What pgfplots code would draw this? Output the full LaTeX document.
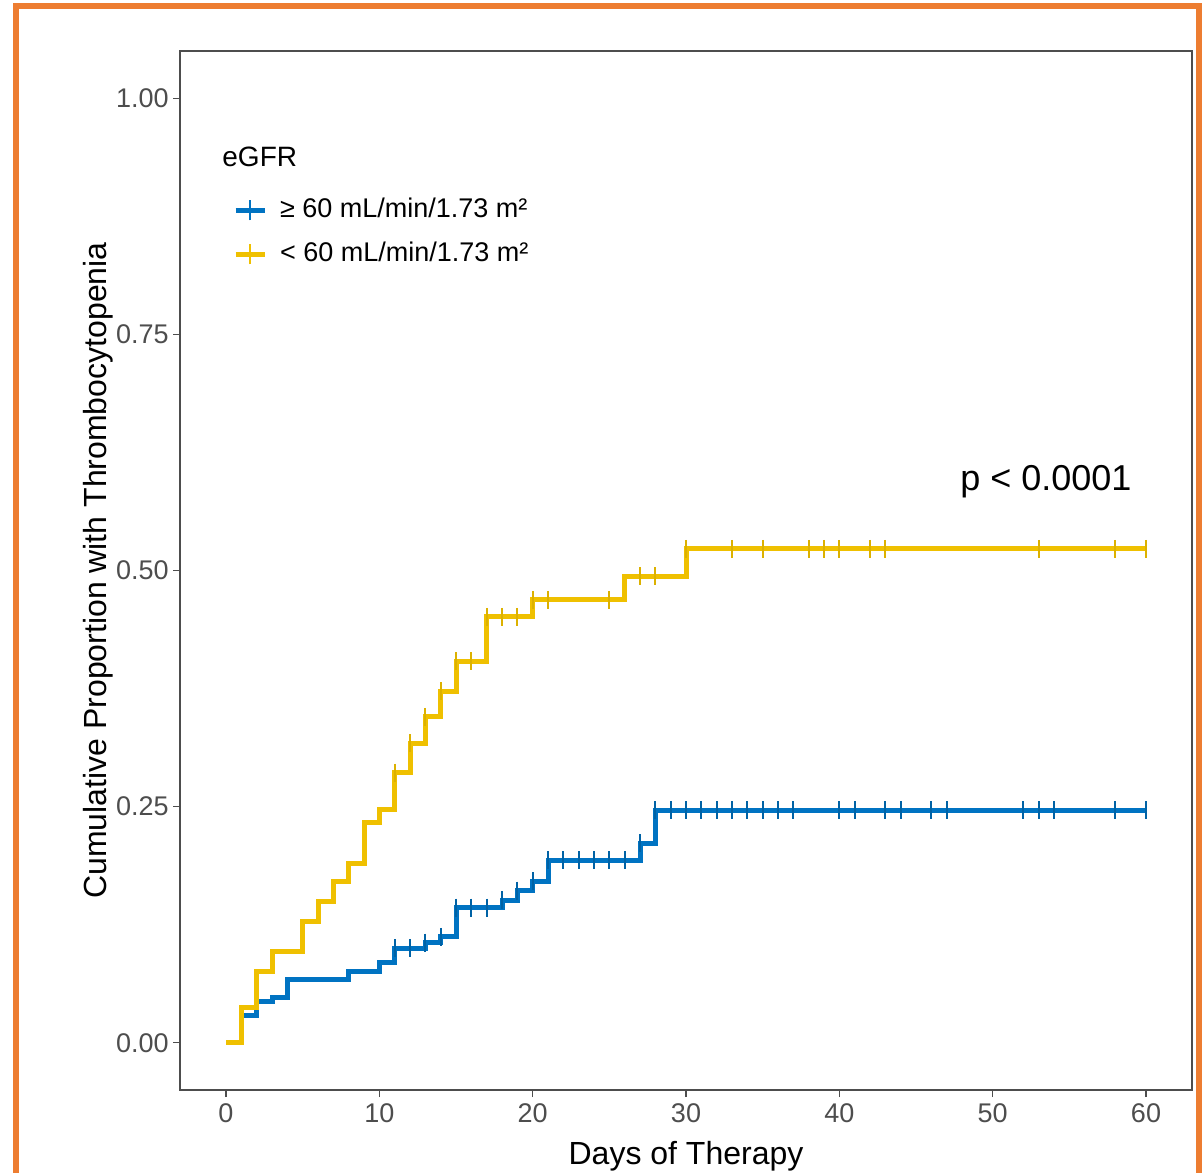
\documentclass[border=0pt]{standalone}
\usepackage{fontspec}
\setmainfont{Liberation Sans}
\usepackage{pgfplots}
\pgfplotsset{compat=1.18}
\definecolor{jcoblue}{HTML}{0073C2}
\definecolor{jcoyellow}{HTML}{EFC000}
\definecolor{frameorange}{HTML}{ED7D31}
\definecolor{axisgray}{HTML}{4D4D4D}

\begin{document}
\begin{tikzpicture}
\useasboundingbox (0pt,0pt) rectangle (601.5pt,-586pt);
\draw[frameorange, line width=2.8pt] (8pt,-590pt) -- (8pt,-3pt) -- (599.5pt,-3pt) -- (599.5pt,-590pt);
\begin{axis}[
  at={(90pt,-545pt)}, anchor=south west,
  scale only axis, width=506pt, height=519.5pt,
  xmin=-3, xmax=63, ymin=-0.05, ymax=1.05,
  xtick={0,10,20,30,40,50,60},
  ytick={0,0.25,0.5,0.75,1},
  yticklabels={0.00,0.25,0.50,0.75,1.00},
  tick align=outside, major tick length=3.5pt,
  xtick pos=bottom, ytick pos=left,
  axis line style={axisgray, line width=0.6pt},
  tick style={axisgray, line width=0.6pt},
  tick label style={font=\fontsize{13.5}{15}\selectfont, text=axisgray},
  yticklabel style={inner sep=2pt},
  /pgf/number format/assume math mode=true,
  xlabel={Days of Therapy},
  ylabel={Cumulative Proportion with Thrombocytopenia},
  label style={font=\fontsize{16}{19}\selectfont},
  ylabel shift=-4pt, xlabel shift=2pt,
  legend style={at={(axis cs:0.45,0.858)}, anchor=west, draw=none, fill=none,
    font=\fontsize{13.5}{16}\selectfont, inner sep=0pt, row sep=9pt, column sep=6.5pt,
    nodes={inner sep=0pt, text height=10pt, text depth=3pt}},
  legend cell align=left,
  legend image code/.code={
    \draw[line width=2.4pt] (0pt,0pt) -- (14.5pt,0pt);
    \draw[line width=1.1pt] (7.25pt,-5pt) -- (7.25pt,5pt);
  },
]
% eGFR >= 60
\addplot[const plot mark left, jcoblue, line width=2.5pt] coordinates {
(0,0) (1,0.029) (2,0.044) (3,0.048) (4,0.067) (8,0.076) (10,0.085) (11,0.100)
(13,0.106) (14,0.112) (15,0.143) (18,0.151) (19,0.161) (20,0.171) (21,0.193)
(27,0.211) (28,0.246) (60,0.246)
};
\addlegendentry{≥ 60 mL/min/1.73 m²}
\addplot[forget plot, only marks, jcoblue!85!black, mark=|, mark size=4.5pt, mark options={line width=1.1pt}] coordinates {
(11,0.100) (12,0.100) (13,0.106) (14,0.112) (15,0.143) (16,0.143) (17,0.143)
(18,0.151) (19,0.161) (20,0.171) (21,0.193) (22,0.193) (23,0.193) (24,0.193)
(25,0.193) (26,0.193) (27,0.211) (28,0.246) (29,0.246) (30,0.246) (31,0.246)
(32,0.246) (33,0.246) (34,0.246) (35,0.246) (36,0.246) (37,0.246) (40,0.246)
(41,0.246) (43,0.246) (44,0.246) (46,0.246) (47,0.246) (52,0.246) (53,0.246)
(54,0.246) (58,0.246) (60,0.246)
};
% eGFR < 60
\addplot[const plot mark left, jcoyellow, line width=2.5pt] coordinates {
(0,0) (1,0.037) (2,0.0755) (3,0.097) (5,0.128) (6,0.150) (7,0.171) (8,0.190)
(9,0.233) (10,0.247) (11,0.286) (12,0.317) (13,0.345) (14,0.372) (15,0.404)
(17,0.451) (20,0.469) (26,0.494) (30,0.523) (60,0.523)
};
\addlegendentry{< 60 mL/min/1.73 m²}
\addplot[forget plot, only marks, jcoyellow!92!black, mark=|, mark size=4.5pt, mark options={line width=1.1pt}] coordinates {
(11,0.286) (12,0.317) (13,0.345) (14,0.372) (15,0.404) (16,0.404) (17,0.451)
(18,0.451) (19,0.451) (20,0.469) (21,0.469) (25,0.469) (27,0.494) (28,0.494)
(30,0.523) (33,0.523) (35,0.523) (38,0.523) (39,0.523) (40,0.523) (42,0.523)
(43,0.523) (53,0.523) (58,0.523) (60,0.523)
};
\node[anchor=west, inner sep=0pt, font=\fontsize{14}{17}\selectfont] at (axis cs:-0.26,0.9375) {eGFR};
\node[anchor=west, inner sep=0pt, font=\fontsize{18}{21}\selectfont] at (axis cs:47.86,0.594) {p < 0.0001};
\end{axis}
\end{tikzpicture}
\end{document}
